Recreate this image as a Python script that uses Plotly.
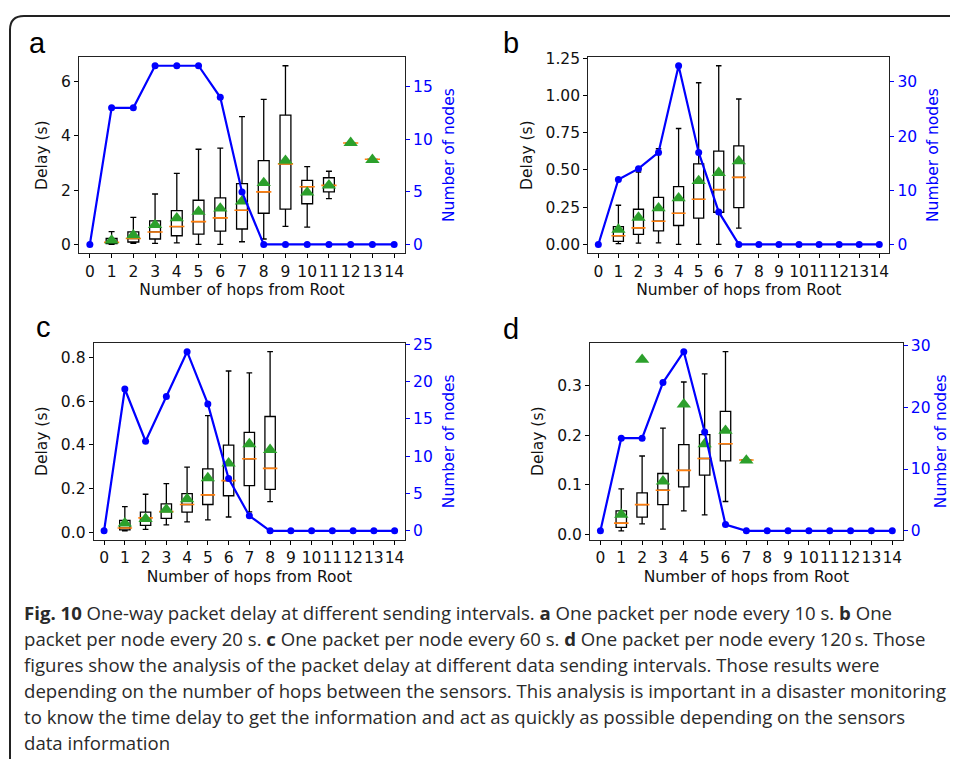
import plotly.graph_objects as go

# page body has an 8px margin: keep the figure inside the window
OFF = 8
W, H = 950, 751

HOPS = list(range(15))
TICK_X = [str(h) for h in HOPS]

# ---------------- Panel a (every 10 s) ----------------
a_nodes = [0, 13, 13, 17, 17, 17, 14, 5, 0, 0, 0, 0, 0, 0, 0]
a_pos = [1, 2, 3, 4, 5, 6, 7, 8, 9, 10, 11, 12, 13]
a_whislo = [0.00, 0.04, 0.04, 0.06, 0.00, 0.00, 0.10, 0.20, 0.67, 0.64, 1.69, 3.74, 3.14]
a_q1 = [0.03, 0.09, 0.20, 0.32, 0.38, 0.49, 0.57, 1.15, 1.30, 1.50, 1.94, 3.74, 3.14]
a_med = [0.08, 0.22, 0.46, 0.66, 0.84, 0.98, 1.26, 1.94, 2.97, 2.13, 2.18, 3.74, 3.14]
a_q3 = [0.22, 0.46, 0.87, 1.25, 1.63, 1.72, 2.24, 3.09, 4.77, 2.36, 2.46, 3.74, 3.14]
a_whishi = [0.47, 1.00, 1.86, 2.62, 3.51, 3.55, 4.71, 5.35, 6.59, 2.87, 2.70, 3.74, 3.14]
a_mean = [0.15, 0.34, 0.72, 0.97, 1.21, 1.33, 1.59, 2.27, 3.09, 1.92, 2.18, 3.75, 3.12]

# ---------------- Panel b (every 20 s) ----------------
b_nodes = [0, 12, 14, 17, 33, 17, 6, 0, 0, 0, 0, 0, 0, 0, 0]
b_pos = [1, 2, 3, 4, 5, 6, 7]
b_whislo = [0.005, 0.009, 0.011, 0.0, 0.0, 0.0, 0.109]
b_q1 = [0.020, 0.067, 0.091, 0.127, 0.176, 0.216, 0.247]
b_med = [0.058, 0.111, 0.156, 0.209, 0.303, 0.368, 0.450]
b_q3 = [0.120, 0.236, 0.316, 0.388, 0.541, 0.626, 0.662]
b_whishi = [0.263, 0.486, 0.642, 0.778, 1.085, 1.199, 0.976]
b_mean = [0.100, 0.180, 0.243, 0.310, 0.426, 0.481, 0.559]

# ---------------- Panel c (every 60 s) ----------------
c_nodes = [0, 19, 12, 18, 24, 17, 7, 2, 0, 0, 0, 0, 0, 0, 0]
c_pos = [1, 2, 3, 4, 5, 6, 7, 8]
c_whislo = [0.008, 0.014, 0.035, 0.049, 0.058, 0.071, 0.094, 0.141]
c_q1 = [0.012, 0.033, 0.065, 0.093, 0.128, 0.168, 0.214, 0.197]
c_med = [0.021, 0.067, 0.096, 0.128, 0.172, 0.237, 0.337, 0.293]
c_q3 = [0.056, 0.093, 0.131, 0.178, 0.291, 0.399, 0.458, 0.530]
c_whishi = [0.118, 0.175, 0.223, 0.299, 0.534, 0.738, 0.729, 0.826]
c_mean = [0.042, 0.063, 0.105, 0.153, 0.249, 0.316, 0.404, 0.378]

# ---------------- Panel d (every 120 s) ----------------
d_nodes = [0, 15, 15, 24, 29, 16, 1, 0, 0, 0, 0, 0, 0, 0, 0]
d_pos = [1, 2, 3, 4, 5, 6, 7]
d_whislo = [0.0074, 0.0215, 0.0107, 0.0477, 0.0396, 0.0664, 0.150]
d_q1 = [0.0141, 0.0349, 0.060, 0.096, 0.1195, 0.148, 0.150]
d_med = [0.0228, 0.060, 0.089, 0.129, 0.153, 0.1826, 0.150]
d_q3 = [0.0477, 0.0839, 0.1228, 0.181, 0.201, 0.2477, 0.150]
d_whishi = [0.092, 0.158, 0.214, 0.307, 0.3235, 0.368, 0.150]
d_mean = [0.040, 0.352, 0.107, 0.262, 0.182, 0.209, 0.149]

a_lticks = [0, 2, 4, 6]
b_lticks = [0.0, 0.25, 0.5, 0.75, 1.0, 1.25]
c_lticks = [0.0, 0.2, 0.4, 0.6, 0.8]
d_lticks = [0.0, 0.1, 0.2, 0.3]
a_rticks = [0, 5, 10, 15]
b_rticks = [0, 10, 20, 30]
c_rticks = [0, 5, 10, 15, 20, 25]
d_rticks = [0, 10, 20, 30]

XTITLE = "Number of hops from Root"
LTITLE = "Delay (s)"
RTITLE = "Number of nodes"

CAPTION = [
    "<b>Fig. 10</b> One-way packet delay at different sending intervals. <b>a</b> One packet per node every 10 s. <b>b</b> One",
    "packet per node every 20 s. <b>c</b> One packet per node every 60 s. <b>d</b> One packet per node every 120\u2009s. Those",
    "figures show the analysis of the packet delay at different data sending intervals. Those results were",
    "depending on the number of hops between the sensors. This analysis is important in a disaster monitoring",
    "to know the time delay to get the information and act as quickly as possible depending on the sensors",
    "data information",
]


def corr(p):
    # vertical placement correction observed in the rendered page
    return (p - 6) / 0.9855


def fx(p):
    return (p - OFF) / W


def fy(p):
    return 1 - (p - OFF) / H


panels = [
    dict(letter="a", nodes=a_nodes, pos=a_pos, lo=a_whislo, q1=a_q1, med=a_med, q3=a_q3, hi=a_whishi,
         mean=a_mean, lt=a_lticks, lfmt="d", rt=a_rticks, xd=(79, 405), yd=(55.7, 252.3), lxy=(27, 55),
         rstand=11),
    dict(letter="b", nodes=b_nodes, pos=b_pos, lo=b_whislo, q1=b_q1, med=b_med, q3=b_q3, hi=b_whishi,
         mean=b_mean, lt=b_lticks, lfmt=".2f", rt=b_rticks, xd=(588.3, 889.3), yd=(55.7, 252.3), lxy=(501, 55),
         rstand=11),
    dict(letter="c", nodes=c_nodes, pos=c_pos, lo=c_whislo, q1=c_q1, med=c_med, q3=c_q3, hi=c_whishi,
         mean=c_mean, lt=c_lticks, lfmt=".1f", rt=c_rticks, xd=(93.7, 405), yd=(341.7, 538.7), lxy=(34, 343),
         rstand=11),
    dict(letter="d", nodes=d_nodes, pos=d_pos, lo=d_whislo, q1=d_q1, med=d_med, q3=d_q3, hi=d_whishi,
         mean=d_mean, lt=d_lticks, lfmt=".1f", rt=d_rticks, xd=(590, 902.7), yd=(341.7, 538.7), lxy=(501, 345),
         rstand=5),
]

FS = 15.5
TICKFONT = dict(family="DejaVu Sans", size=FS, color="#111")
BLUE = "#0000ff"
XRANGE = [-0.5, 14.5]
BOXW = 0.5

fig = go.Figure()
layout = dict(
    width=W, height=H, margin=dict(l=0, r=0, t=0, b=0), autosize=False,
    paper_bgcolor="white", plot_bgcolor="white", showlegend=False,
    annotations=[], shapes=[],
)

for i, p in enumerate(panels):
    xn = "x" if i == 0 else f"x{i + 1}"
    yl = f"y{2 * i + 1}" if i > 0 else "y"
    yr = f"y{2 * i + 2}"
    xkey = "xaxis" if i == 0 else f"xaxis{i + 1}"
    ylkey = "yaxis" if i == 0 else f"yaxis{2 * i + 1}"
    yrkey = f"yaxis{2 * i + 2}"

    lo_all = min(p["lo"] + p["mean"])
    hi_all = max(p["hi"] + p["mean"])
    span = hi_all - lo_all
    lrange = [lo_all - 0.05 * span, hi_all + 0.05 * span]
    nmax = max(p["nodes"])
    rrange = [-0.05 * nmax, 1.05 * nmax]

    px_per_unit = (p["xd"][1] - p["xd"][0]) / (XRANGE[1] - XRANGE[0])
    box_px = BOXW * px_per_unit

    fig.add_trace(go.Box(
        x=p["pos"], q1=p["q1"], median=p["med"], q3=p["q3"],
        lowerfence=p["lo"], upperfence=p["hi"], width=BOXW, whiskerwidth=0.55,
        line=dict(color="black", width=1.3), fillcolor="rgba(0,0,0,0)",
        boxpoints=False, xaxis=xn, yaxis=yl, hoverinfo="skip", orientation="v",
    ))
    fig.add_trace(go.Scatter(
        x=p["pos"], y=p["med"], mode="markers", xaxis=xn, yaxis=yl, hoverinfo="skip",
        marker=dict(symbol="line-ew", size=box_px, line=dict(color="#ff7f0e", width=1.6)),
    ))
    fig.add_trace(go.Scatter(
        x=p["pos"], y=p["mean"], mode="markers", xaxis=xn, yaxis=yl, hoverinfo="skip",
        marker=dict(symbol="triangle-up", size=12.5, color="#2ca02c", line=dict(width=0)),
    ))
    fig.add_trace(go.Scatter(
        x=HOPS, y=p["nodes"], mode="lines+markers", xaxis=xn, yaxis=yr, hoverinfo="skip",
        line=dict(color=BLUE, width=2.2), marker=dict(size=7, color=BLUE),
    ))

    layout[xkey] = dict(
        domain=[fx(p["xd"][0]), fx(p["xd"][1])], anchor=yl, range=XRANGE, type="linear",
        tickmode="array", tickvals=HOPS, ticktext=TICK_X, tickangle=0,
        ticks="outside", ticklen=4, tickwidth=1, tickcolor="black",
        showline=True, linecolor="#222", linewidth=1.2, mirror=True,
        showgrid=False, zeroline=False, tickfont=TICKFONT,
        title=dict(text=XTITLE, font=TICKFONT, standoff=4),
    )
    layout[ylkey] = dict(
        domain=[fy(corr(p["yd"][1])), fy(corr(p["yd"][0]))], anchor=xn, range=lrange,
        tickmode="array", tickvals=p["lt"], tickformat=p["lfmt"],
        ticks="outside", ticklen=4, tickwidth=1, tickcolor="black",
        showline=True, linecolor="#222", linewidth=1.2, mirror=True,
        showgrid=False, zeroline=False, tickfont=TICKFONT,
        title=dict(text=LTITLE, font=TICKFONT, standoff=9),
    )
    layout[yrkey] = dict(
        overlaying=yl, side="right", anchor=xn, range=rrange,
        tickmode="array", tickvals=p["rt"],
        ticks="outside", ticklen=4, tickwidth=1, tickcolor=BLUE,
        showline=False, showgrid=False, zeroline=False,
        tickfont=dict(family="DejaVu Sans", size=FS, color=BLUE),
        title=dict(text=RTITLE, font=dict(family="DejaVu Sans", size=FS, color=BLUE), standoff=p["rstand"]),
    )

    layout["annotations"].append(dict(
        text=p["letter"], xref="paper", yref="paper", x=fx(p["lxy"][0]), y=fy(p["lxy"][1]),
        xanchor="left", yanchor="bottom", showarrow=False,
        font=dict(family="Liberation Sans", size=29, color="black"),
    ))

LINE0, LSTEP = 614, 26.5
for k, line in enumerate(CAPTION):
    layout["annotations"].append(dict(
        text=line, xref="paper", yref="paper", x=fx(22), y=fy(LINE0 + k * LSTEP),
        xanchor="left", yanchor="middle", showarrow=False, align="left",
        font=dict(family="Open Sans", size=18.6, color="#2a2a2a"),
    ))

frame = (f"M {fx(10)} {fy(800)} L {fx(10)} {fy(23)} "
         f"Q {fx(10)} {fy(9)} {fx(24)} {fy(9)} L {fx(1000)} {fy(9)}")
layout["shapes"].append(dict(type="path", path=frame, xref="paper", yref="paper",
                             line=dict(color="#222", width=2)))

fig.update_layout(**layout)
fig.write_html("out.html")
